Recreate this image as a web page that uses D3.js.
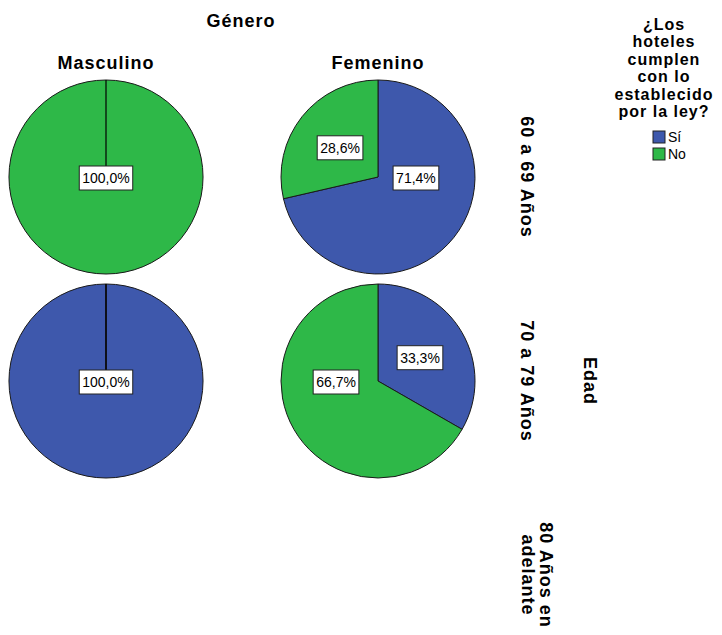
<!DOCTYPE html>
<html>
<head>
<meta charset="utf-8">
<script src="https://cdn.jsdelivr.net/npm/d3@7"></script>
<style>
  body { margin: 0; background: #fff; }
  text { font-family: "Liberation Sans", Arial, sans-serif; fill: #000; }
</style>
</head>
<body>
<svg id="chart" width="722" height="635"></svg>
<script>
// Panel variables
const genders = ["Masculino", "Femenino"];
const ageGroups = ["60 a 69 Años", "70 a 79 Años", "80 Años en adelante"];
const answers = ["Sí", "No"];
const answerColors = ["#3e58ac", "#2eb848"];

// Percentages per panel [Sí, No]; null = no cases in that cell
const masculinoValues = [[0, 100.0], [100.0, 0], null];
const femeninoValues = [[71.4, 28.6], [33.3, 66.7], null];

const legendTitle = ["¿Los", "hoteles", "cumplen", "con lo", "establecido", "por la ley?"];

const svg = d3.select("#chart");
const radius = 97;

const colX = d3.scalePoint().domain(genders).range([106, 378]);
const rowY = d3.scalePoint().domain(ageGroups).range([177, 585]);
const color = d3.scaleOrdinal().domain(answers).range(answerColors);

const pie = d3.pie().sort(null).value(d => d.value);
const arc = d3.arc().innerRadius(0).outerRadius(radius);

const fmt = v => d3.format(".1f")(v).replace(".", ",") + "%";

// Column header and row variable titles
svg.append("text").attr("x", 241).attr("y", 27)
  .attr("text-anchor", "middle").style("font-weight", "bold")
  .style("font-size", "18px").style("letter-spacing", "1px").text("Género");

genders.forEach(g => {
  svg.append("text").attr("x", colX(g)).attr("y", 69)
    .attr("text-anchor", "middle").style("font-weight", "bold")
    .style("font-size", "18px").style("letter-spacing", "1px").text(g);
});

// Row labels, rotated to read downward
ageGroups.forEach((a, i) => {
  const lines = i === 2 ? ["80 Años en", "adelante"] : [a];
  const t = svg.append("text")
    .attr("transform", `translate(${lines.length > 1 ? 546 : 527},${i === 2 ? 575 : rowY(a)}) rotate(90)`)
    .attr("text-anchor", "middle").style("font-weight", "bold")
    .style("font-size", "18px").style("letter-spacing", "1px");
  lines.forEach((l, j) => {
    t.append("tspan").attr("x", 0).attr("dy", j === 0 ? "0.35em" : "1.0em").text(l);
  });
});

svg.append("text").attr("transform", `translate(590,381) rotate(90)`)
  .attr("text-anchor", "middle").attr("dy", "0.35em")
  .style("font-weight", "bold").style("font-size", "18px").style("letter-spacing", "1px")
  .text("Edad");

// Pies
const panels = [masculinoValues, femeninoValues];
panels.forEach((vals, gi) => {
  vals.forEach((v, ai) => {
    if (!v) return;
    const data = answers.map((k, i) => ({ key: k, value: v[i] }));
    const arcs = pie(data);
    const g = svg.append("g")
      .attr("transform", `translate(${colX(genders[gi])},${rowY(ageGroups[ai])})`);

    g.selectAll("path.slice").data(arcs).join("path")
      .attr("class", "slice")
      .attr("d", arc)
      .attr("fill", d => color(d.data.key))
      .attr("stroke", "#1a1a1a").attr("stroke-width", 1);

    // radial separator at 12 o'clock for a full single-slice pie
    const full = arcs.filter(d => d.value > 0);
    if (full.length === 1) {
      g.append("line").attr("x1", 0).attr("y1", 0).attr("x2", 0).attr("y2", -radius)
        .attr("stroke", "#000").attr("stroke-width", 1.2);
    }

    // value labels
    full.forEach(d => {
      const c = arc.centroid(d);
      let x = c[0], y = c[1];
      if (d.endAngle - d.startAngle >= 2 * Math.PI - 1e-6) { x = 0; y = 0; }
      else if (d.endAngle - d.startAngle > Math.PI) { y = 0; }
      const lbl = g.append("g").attr("transform", `translate(${x},${y + 1})`);
      const txt = lbl.append("text").attr("text-anchor", "middle").attr("dy", "0.35em")
        .style("font-size", "14px").text(fmt(d.data.value));
      const bb = txt.node().getBBox();
      lbl.insert("rect", "text")
        .attr("x", bb.x - 3).attr("y", -12)
        .attr("width", bb.width + 6).attr("height", 24)
        .attr("fill", "#fff").attr("stroke", "#222").attr("stroke-width", 1);
    });
  });
});

// Legend
const lt = svg.append("text").attr("text-anchor", "middle")
  .style("font-weight", "bold").style("font-size", "16px").style("letter-spacing", "1px");
legendTitle.forEach((l, i) => {
  lt.append("tspan").attr("x", 664).attr("y", 30 + i * 17.4).text(l);
});

const leg = svg.append("g").selectAll("g").data(answers).join("g")
  .attr("transform", (d, i) => `translate(653,${131 + i * 17})`);
leg.append("rect").attr("width", 12).attr("height", 12)
  .attr("fill", d => color(d)).attr("stroke", "#222").attr("stroke-width", 1);
leg.append("text").attr("x", 15).attr("y", 6).attr("dy", "0.35em")
  .style("font-size", "14px").text(d => d);
</script>
</body>
</html>
